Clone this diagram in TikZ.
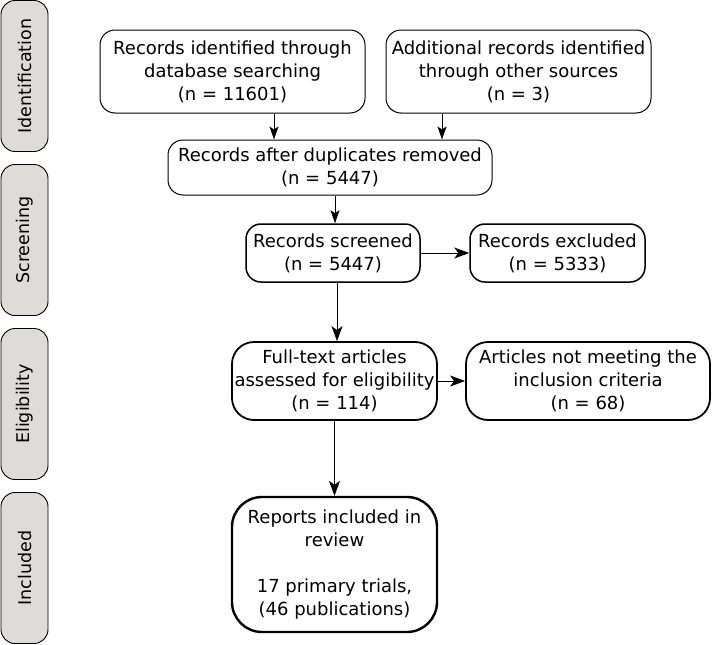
\documentclass[tikz,border=0pt]{standalone}
\usepackage{fontspec}
\setmainfont{DejaVu Sans}
\usetikzlibrary{arrows.meta}

\definecolor{phasegray}{HTML}{E0DBDB}

\tikzstyle{rect} = [rectangle, rounded corners=15pt, draw=black, line width=1pt, align=center, font=\fontsize{18}{23}\selectfont, inner sep=0pt]
\tikzstyle{phase} = [rectangle, rounded corners=14pt, draw=black, line width=0.9pt, fill=phasegray, minimum width=151pt, minimum height=47pt, rotate=90, font=\fontsize{17.5}{20}\selectfont, inner sep=0pt]
\tikzstyle{arrow} = [line width=1pt, -{Stealth[length=15pt, width=11pt, inset=4pt]}]

\begin{document}
\begin{tikzpicture}[x=1pt, y=-1pt]

\useasboundingbox (0,0) rectangle (715,645);

% phases on the left
\node (identification) [phase] at (24.5,76) {Identification};
\node (screening) [phase] at (24.5,240) {Screening};
\node (eligibility) [phase] at (24.5,404) {Eligibility};
\node (included) [phase] at (24.5,568) {Included};

% identification
\node (database) [rect, minimum width=265pt, minimum height=83pt] at (232.5,71.5) {Records identified through\\database searching\\(n = 11601)};

\node (other) [rect, minimum width=265pt, minimum height=83pt] at (518.5,71.5) {Additional records identified\\through other sources\\(n = 3)};

\node (duplicates) [rect, minimum width=324pt, minimum height=55pt] at (330,167.5) {Records after duplicates removed\\(n = 5447)};

% screening
\node (screened) [rect, line width=1.5pt, minimum width=174pt, minimum height=58pt] at (333,253) {Records screened\\(n = 5447)};

\node (excluded) [rect, line width=1.5pt, minimum width=175pt, minimum height=58pt] at (557.5,253) {Records excluded\\(n = 5333)};

% eligibility
\node (fulltext) [rect, line width=1.8pt, rounded corners=22pt, minimum width=205pt, minimum height=78pt] at (334.5,381) {Full-text articles\\assessed for eligibility\\(n = 114)};

\node (notmeeting) [rect, line width=1.8pt, rounded corners=22pt, minimum width=244pt, minimum height=78pt] at (588,381) {Articles not meeting the\\inclusion criteria\\(n = 68)};

% included
\node (reports) [rect, line width=2.4pt, rounded corners=30pt, minimum width=205pt, minimum height=135pt] at (334.5,564.5) {Reports included in\\review\\[23pt]17 primary trials,\\(46 publications)};

\draw[arrow, -{Stealth[length=13pt, width=9pt, inset=3pt]}] ([xshift=41.5pt]database.south) -- ([xshift=41.5pt]database.south |- duplicates.north);
\draw[arrow, -{Stealth[length=13pt, width=9pt, inset=3pt]}] ([xshift=-76.5pt]other.south) -- ([xshift=-76.5pt]other.south |- duplicates.north);
\draw[arrow, -{Stealth[length=13pt, width=9pt, inset=3pt]}] ([xshift=5pt]duplicates.south) -- ([xshift=5pt]duplicates.south |- screened.north);
\draw[arrow] ([xshift=4pt]screened.south) -- ([xshift=4pt]screened.south |- fulltext.north);
\draw[arrow] (fulltext.south) -- (reports.north);
\draw[arrow] (screened.east) -- (excluded.west);
\draw[arrow] (fulltext.east) -- (notmeeting.west);

\end{tikzpicture}
\end{document}
